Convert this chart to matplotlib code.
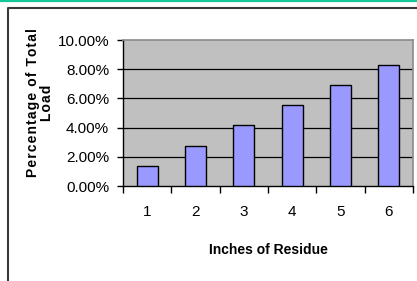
import matplotlib
matplotlib.use("Agg")
import matplotlib.pyplot as plt
from matplotlib.lines import Line2D
from matplotlib.ticker import FixedLocator, NullFormatter, FixedFormatter, FuncFormatter
from matplotlib import font_manager

categories = ["1", "2", "3", "4", "5", "6"]
values = [1.39, 2.74, 4.20, 5.57, 6.94, 8.31]
yticks = [0, 2, 4, 6, 8, 10]
xlabel = "Inches of Residue"
ylabel_lines = ["Percentage of Total", "Load"]

names = {f.name for f in font_manager.fontManager.ttflist}
narrow = "Liberation Sans Narrow" if "Liberation Sans Narrow" in names else "Liberation Sans"
fam_n = [narrow, "DejaVu Sans"]
fam = ["Liberation Sans", "DejaVu Sans"]

W, H = 417, 281
fig = plt.figure(figsize=(W / 100, H / 100), dpi=100)
fig.patch.set_facecolor("white")

# top green rule and outer chart border
fig.add_artist(Line2D([0, 1], [1 - 0.8 / H, 1 - 0.8 / H], transform=fig.transFigure,
                      color="#14c89c", lw=1.6))
fig.add_artist(Line2D([7.5 / W, 7.5 / W, 1.02], [-0.02, 1 - 7.5 / H, 1 - 7.5 / H],
                      transform=fig.transFigure, color="#3a3a3a", lw=1.5))

ax = fig.add_axes([123 / W, 95 / H, 290 / W, 146 / H])
ax.set_facecolor("#c0c0c0")
x = list(range(1, len(categories) + 1))
ax.bar(x, values, width=0.43, color="#9999ff", edgecolor="black", linewidth=1.0, zorder=3)
ax.set_xlim(0.5, len(categories) + 0.5)
ax.set_ylim(0, 10)

ax.set_yticks(yticks)
ax.yaxis.set_major_formatter(FuncFormatter(lambda v, p: f"{v:.2f}%"))
for yv in yticks[1:-1]:
    ax.axhline(yv, color="black", lw=0.9, zorder=1)

bounds = [i + 0.5 for i in range(len(categories) + 1)]
ax.xaxis.set_major_locator(FixedLocator(bounds))
ax.xaxis.set_major_formatter(NullFormatter())
ax.xaxis.set_minor_locator(FixedLocator(x))
ax.xaxis.set_minor_formatter(FixedFormatter(categories))
ax.tick_params(axis="x", which="major", direction="out", length=5, width=1, color="black")
ax.tick_params(axis="x", which="minor", length=0, pad=14)
ax.tick_params(axis="y", direction="out", length=4, width=1, color="black", pad=6)
for lab in ax.get_xticklabels(minor=True) + ax.get_yticklabels():
    lab.set_fontfamily(fam_n)
    lab.set_fontsize(11)

for s in ["left", "bottom"]:
    ax.spines[s].set_color("black")
    ax.spines[s].set_linewidth(1.0)
for s in ["top", "right"]:
    ax.spines[s].set_color("#8a8a8a")
    ax.spines[s].set_linewidth(1.2)

fig.text(268 / W, 1 - 250 / H, xlabel, ha="center", va="center", fontsize=10,
         fontweight="bold", family=fam_n)

spaced = "\n".join("\u200a".join(list(l)) for l in ylabel_lines)
fig.text(40 / W, 1 - 103 / H, spaced, rotation=90, ha="center", va="center",
         multialignment="center", fontsize=10, fontweight="bold", family=fam,
         linespacing=1.0)

fig.savefig("out.png", dpi=100)
